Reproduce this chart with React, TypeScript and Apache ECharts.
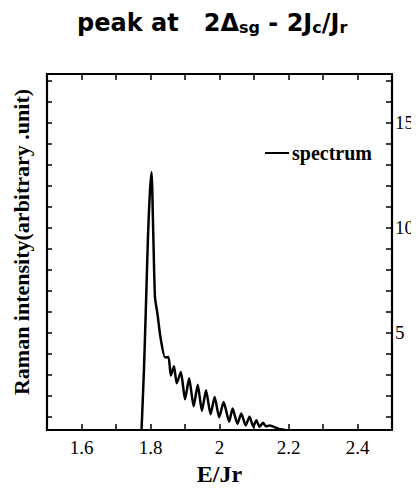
import React, { useEffect, useRef } from "react";
import * as echarts from "echarts";

const X_MIN = 1.5;
const X_MAX = 2.5;
const Y_MIN = 0.35;
const Y_MAX = 17.3;

const xLabelValues = [1.6, 1.8, 2, 2.2, 2.4];
const yLabelValues = [5, 10, 15];
const yMinorTicks = [1, 2, 3, 4, 5, 6, 7, 8, 9, 10, 11, 12, 13, 14, 15, 16, 17];

const energy = [
  1.774, 1.781, 1.787, 1.793, 1.798, 1.803, 1.808, 1.813, 1.82, 1.829, 1.842,
  1.852, 1.859, 1.868, 1.876, 1.888, 1.9, 1.912, 1.925, 1.937, 1.949, 1.961,
  1.974, 1.986, 1.999, 2.012, 2.028, 2.038, 2.052, 2.063, 2.076, 2.087, 2.098,
  2.107, 2.116, 2.126, 2.135, 2.146, 2.17, 2.19,
];
const intensity = [
  0.35, 3.2, 6.38, 9.71, 11.6, 12.62, 9.71, 6.67, 5.9, 4.76, 3.81,
  3.82, 2.95, 3.38, 2.57, 3.11, 1.81, 2.81, 1.48, 2.5, 1.26, 2.24,
  1.1, 1.92, 0.95, 1.68, 0.74, 1.37, 0.65, 1.13, 0.57, 0.98, 0.52,
  0.81, 0.5, 0.69, 0.52, 0.57, 0.41, 0.35,
];

const seriesName = "spectrum";
const titleText = "peak at   2Δ{s|sg} - 2J{s|c}/J{s|r}";
const yAxisTitle = "Raman intensity(arbitrary .unit)";
const xAxisTitle = "E/Jr";

const SERIF = "'Liberation Serif', 'Times New Roman', serif";
const HEAVY = "'DejaVu Sans', Verdana, sans-serif";

export default function App() {
  const ref = useRef<HTMLDivElement>(null);
  useEffect(() => {
    if (!ref.current) return;
    const chart = echarts.init(ref.current, undefined, { renderer: "svg" });
    const axisLine = { show: true, lineStyle: { color: "#000", width: 2.2 } };
    const tickStyle = { color: "#000", width: 1.5 };
    const data = energy.map((e, i) => [e, intensity[i]]);
    chart.setOption({
      animation: false,
      backgroundColor: "#fff",
      title: {
        text: titleText,
        left: 72,
        top: 6,
        textStyle: {
          fontFamily: HEAVY,
          fontWeight: "bold",
          fontSize: 24,
          color: "#000",
          rich: {
            s: {
              fontFamily: HEAVY,
              fontWeight: "bold",
              fontSize: 16,
              color: "#000",
              verticalAlign: "bottom",
            },
          },
        },
      },
      legend: {
        data: [{ name: seriesName, itemStyle: { color: "#000" } }],
        right: 47,
        top: 143,
        padding: 0,
        icon: "rect",
        itemWidth: 24,
        itemHeight: 2,
        itemGap: 4,
        textStyle: {
          fontFamily: SERIF,
          fontWeight: "bold",
          fontSize: 20,
          color: "#000",
          padding: [0, 0, 0, -2],
        },
      },
      grid: {
        left: 47,
        right: 27,
        top: 74,
        bottom: 62,
        containLabel: false,
        outerBoundsMode: "none",
      },
      xAxis: [
        {
          type: "value",
          position: "bottom",
          min: X_MIN,
          max: X_MAX,
          interval: 0.1,
          axisLine,
          axisTick: { show: true, inside: true, length: 6, lineStyle: tickStyle },
          axisLabel: {
            show: true,
            customValues: xLabelValues,
            formatter: (v: number) => String(v),
            fontFamily: SERIF,
            fontSize: 19,
            color: "#000",
            margin: 8,
          },
          splitLine: { show: false },
          name: xAxisTitle,
          nameLocation: "middle",
          nameGap: 32,
          nameTextStyle: {
            fontFamily: SERIF,
            fontWeight: "bold",
            fontSize: 24,
            color: "#000",
          },
        },
        {
          type: "value",
          position: "top",
          min: X_MIN,
          max: X_MAX,
          interval: 0.1,
          axisLine,
          axisTick: { show: true, inside: true, length: 6, lineStyle: tickStyle },
          axisLabel: { show: false },
          splitLine: { show: false },
        },
      ],
      yAxis: [
        {
          type: "value",
          position: "left",
          min: Y_MIN,
          max: Y_MAX,
          axisLine,
          axisTick: {
            show: true,
            inside: true,
            length: 5,
            customValues: yMinorTicks,
            lineStyle: tickStyle,
          },
          axisLabel: { show: false },
          splitLine: { show: false },
        },
        {
          type: "value",
          position: "right",
          offset: 0,
          min: Y_MIN,
          max: Y_MAX,
          axisLine,
          axisTick: {
            show: true,
            inside: true,
            length: 6,
            customValues: yMinorTicks,
            lineStyle: tickStyle,
          },
          axisLabel: {
            show: true,
            customValues: yLabelValues,
            fontFamily: SERIF,
            fontSize: 19,
            color: "#000",
            margin: 3,
          },
          splitLine: { show: false },
        },
      ],
      graphic: [
        {
          type: "text",
          x: 21,
          y: 242,
          rotation: Math.PI / 2,
          style: {
            text: yAxisTitle,
            fontFamily: SERIF,
            fontWeight: "bold",
            fontSize: 22,
            fill: "#000",
            textAlign: "center",
            textVerticalAlign: "middle",
          },
        },
      ],
      series: [
        {
          name: seriesName,
          type: "line",
          data,
          showSymbol: false,
          symbol: "none",
          smooth: 0.2,
          lineStyle: { color: "#000", width: 2.5 },
          itemStyle: { color: "#000" },
          clip: true,
        },
      ],
    });
    return () => chart.dispose();
  }, []);
  return <div ref={ref} style={{ width: 419, height: 492, margin: -8 }} />;
}
